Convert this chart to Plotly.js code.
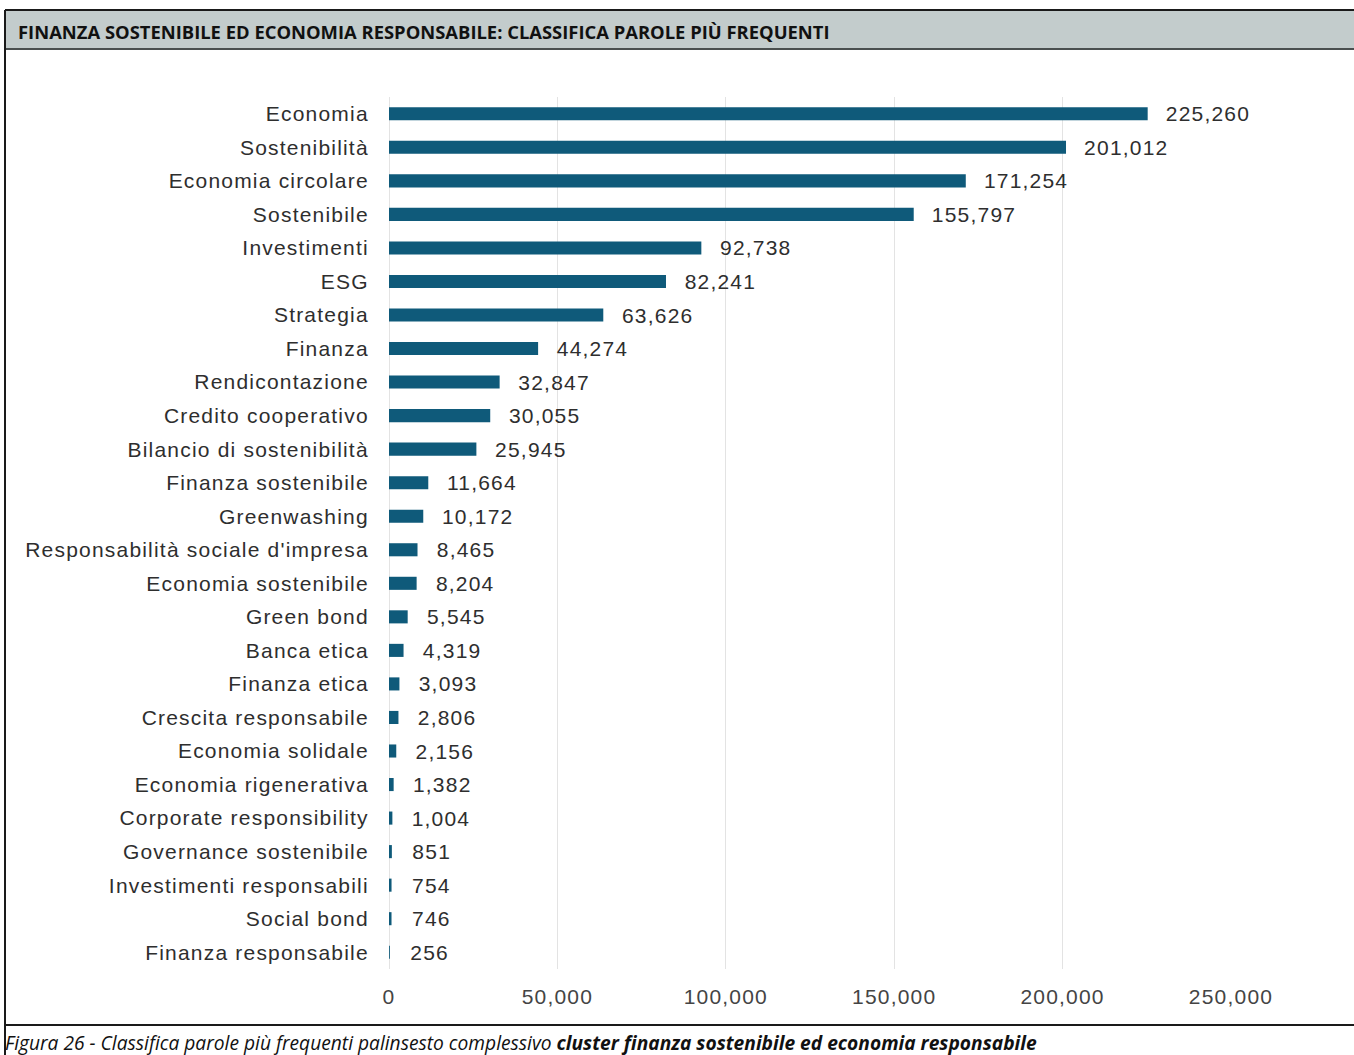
<!DOCTYPE html>
<html>
<head>
<meta charset="utf-8">
<script src="https://cdn.plot.ly/plotly-3.0.1.min.js"></script>
<style>
html,body{margin:0;padding:0;background:#fff;}
#chart{width:1354px;height:1055px;}
#chart .xtick text, #chart .ytick text, #chart .bartext { letter-spacing: 1.2px; }
</style>
</head>
<body>
<div id="chart"></div>
<script>
const categories = [
  "Economia", "Sostenibilità", "Economia circolare", "Sostenibile", "Investimenti",
  "ESG", "Strategia", "Finanza", "Rendicontazione", "Credito cooperativo",
  "Bilancio di sostenibilità", "Finanza sostenibile", "Greenwashing",
  "Responsabilità sociale d'impresa", "Economia sostenibile", "Green bond",
  "Banca etica", "Finanza etica", "Crescita responsabile", "Economia solidale",
  "Economia rigenerativa", "Corporate responsibility", "Governance sostenibile",
  "Investimenti responsabili", "Social bond", "Finanza responsabile"
];
const values = [
  225260, 201012, 171254, 155797, 92738,
  82241, 63626, 44274, 32847, 30055,
  25945, 11664, 10172,
  8465, 8204, 5545,
  4319, 3093, 2806, 2156,
  1382, 1004, 851,
  754, 746, 256
];
const xTicks = [0, 50000, 100000, 150000, 200000, 250000];
const xTickLabels = ["0", "50,000", "100,000", "150,000", "200,000", "250,000"];
const headerTitle = "FINANZA SOSTENIBILE ED ECONOMIA RESPONSABILE: CLASSIFICA PAROLE PIÙ FREQUENTI";
const captionRegular = "Figura 26 - Classifica parole più frequenti palinsesto complessivo ";
const captionBold = "cluster finanza sostenibile ed economia responsabile";

const W = 1354, H = 1055;
const L = 389, R = 1231, T = 97, B = 969;
const px = x => (x - L) / (R - L);
const py = y => (B - y) / (B - T);

const trace = {
  type: 'bar',
  orientation: 'h',
  y: categories,
  x: values,
  marker: {color: '#0f5a7a'},
  texttemplate: '\u00a0\u00a0\u00a0%{x:,}',
  textposition: 'outside',
  constraintext: 'none',
  textfont: {family: 'Liberation Sans, Arial, sans-serif', size: 21, color: '#2e2e2e'},
  cliponaxis: false,
  hoverinfo: 'none'
};

const layout = {
  width: W, height: H,
  margin: {l: L, r: W - R, t: T, b: H - B, pad: 0},
  paper_bgcolor: '#ffffff',
  plot_bgcolor: '#ffffff',
  showlegend: false,
  bargap: 0.61,
  font: {family: 'Liberation Sans, Arial, sans-serif', size: 21, color: '#2e2e2e'},
  xaxis: {
    range: [0, 250000],
    tickvals: xTicks,
    ticktext: xTickLabels,
    showgrid: true,
    gridcolor: '#e3e3e3',
    gridwidth: 1,
    zeroline: true,
    zerolinecolor: '#e3e3e3',
    zerolinewidth: 1,
    showline: false,
    ticks: 'outside',
    ticklen: 9,
    tickcolor: 'rgba(0,0,0,0)',
    tickfont: {size: 21, color: '#444444'},
    fixedrange: true
  },
  yaxis: {
    autorange: 'reversed',
    type: 'category',
    showgrid: false,
    showline: false,
    ticks: 'outside',
    ticklen: 15,
    tickcolor: 'rgba(0,0,0,0)',
    tickfont: {size: 21, color: '#2e2e2e'},
    fixedrange: true
  },
  shapes: [
    {type: 'rect', xref: 'paper', yref: 'paper', x0: px(5), x1: px(1356), y0: py(10), y1: py(49),
     fillcolor: '#c3cccc', line: {width: 0}, layer: 'below'},
    {type: 'line', xref: 'paper', yref: 'paper', x0: px(5), x1: px(1356), y0: py(10), y1: py(10),
     line: {color: '#1a1a1a', width: 2}},
    {type: 'line', xref: 'paper', yref: 'paper', x0: px(5), x1: px(1356), y0: py(49), y1: py(49),
     line: {color: '#4a4f4f', width: 2}},
    {type: 'line', xref: 'paper', yref: 'paper', x0: px(5), x1: px(5), y0: py(10), y1: py(1056),
     line: {color: '#1a1a1a', width: 2}},
    {type: 'line', xref: 'paper', yref: 'paper', x0: px(5), x1: px(1356), y0: py(1025), y1: py(1025),
     line: {color: '#1a1a1a', width: 2}}
  ],
  annotations: [
    {xref: 'paper', yref: 'paper', x: px(16), y: py(31), xanchor: 'left', yanchor: 'middle',
     text: '<b>' + headerTitle + '</b>', showarrow: false,
     font: {family: 'Open Sans, sans-serif', size: 18.4, color: '#111111'}},
    {xref: 'paper', yref: 'paper', x: px(3), y: py(1042), xanchor: 'left', yanchor: 'middle',
     text: '<i>' + captionRegular + '<b>' + captionBold + '</b></i>', showarrow: false,
     font: {family: 'Open Sans, sans-serif', size: 19.2, color: '#111111'}}
  ]
};

Plotly.newPlot('chart', [trace], layout, {displayModeBar: false, staticPlot: true});
</script>
</body>
</html>
